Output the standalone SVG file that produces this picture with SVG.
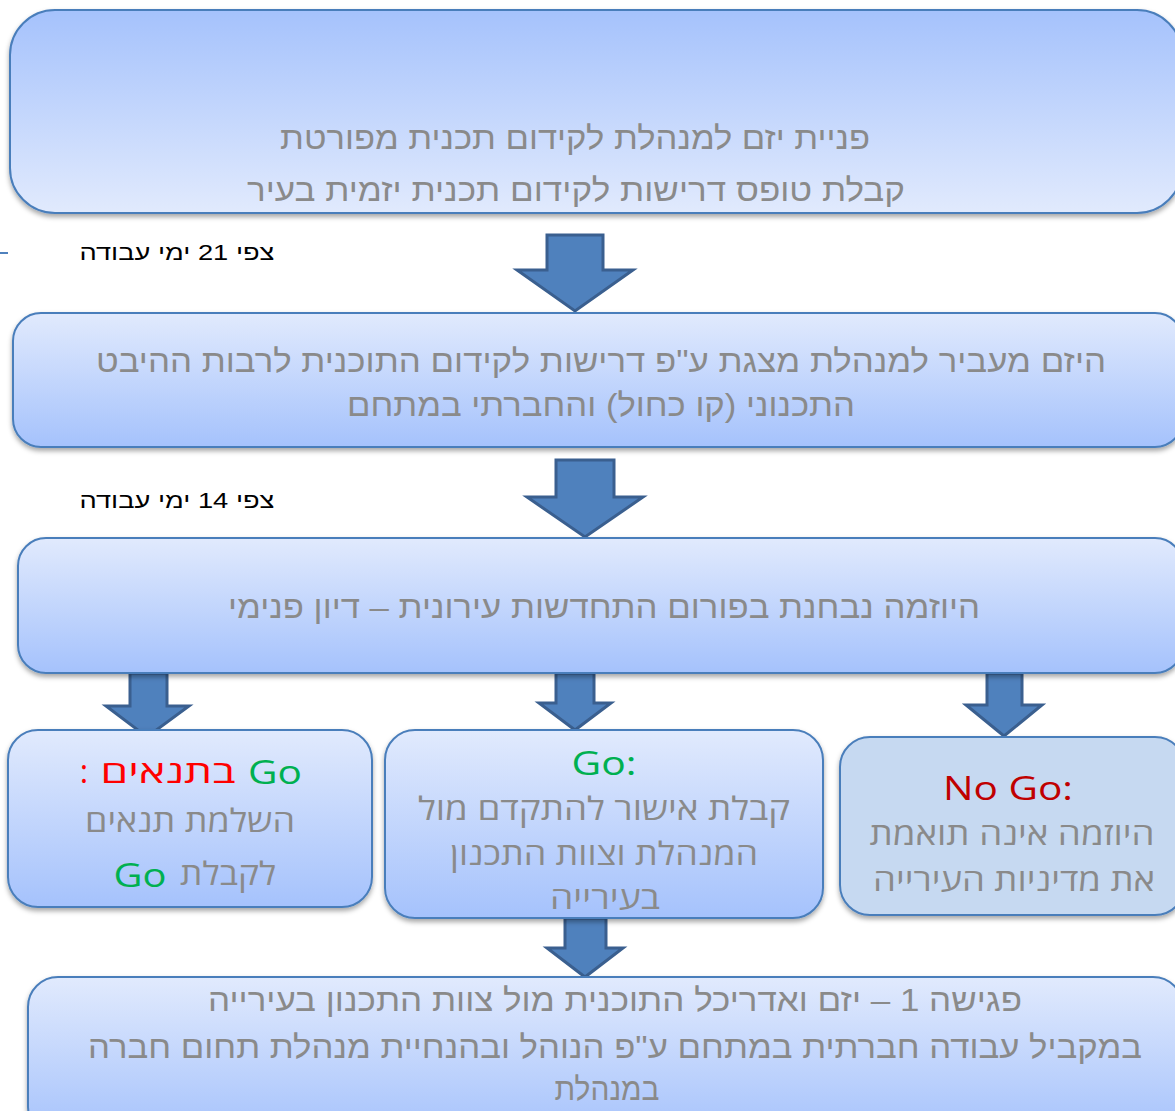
<svg xmlns="http://www.w3.org/2000/svg" width="1175" height="1111" viewBox="0 0 1175 1111">
<defs>
<linearGradient id="gDown" x1="0" y1="0" x2="0" y2="1"><stop offset="0" stop-color="#a5c2fc"/><stop offset="1" stop-color="#e1eafd"/></linearGradient>
<linearGradient id="gUp" x1="0" y1="0" x2="0" y2="1"><stop offset="0" stop-color="#e1eafd"/><stop offset="1" stop-color="#a5c2fc"/></linearGradient>
<filter id="sh" x="-5%" y="-10%" width="110%" height="125%"><feDropShadow dx="0" dy="3" stdDeviation="2.5" flood-color="#000" flood-opacity="0.35"/></filter>
</defs>
<style>
.box{stroke:#4a7ebb;stroke-width:2;filter:url(#sh)}
.arr{fill:#4f81bd;stroke:#3a5f8f;stroke-width:3;stroke-linejoin:miter}
.t{font-family:"Liberation Sans",Arial,sans-serif;fill:#8a8a8a;font-size:32px;text-anchor:middle}
.s{font-family:"Open Sans","DejaVu Sans",sans-serif;fill:#8a8a8a;font-size:32px;text-anchor:middle}
.lbl{font-family:"Liberation Sans",Arial,sans-serif;fill:#000;font-size:22px;text-anchor:middle}
.grn{fill:#00b050}
.red{fill:#ff0000}
.dred{fill:#c00000}
</style>
<g id="connectors">
<line x1="0" y1="253" x2="8" y2="253" stroke="#4f81bd" stroke-width="2"/>
<path class="arr" d="M547,235 H603 V270 H633 L575,311 L517,270 H547 Z"/>
<path class="arr" d="M556,460 H614 V497 H643 L585,537 L527,497 H556 Z"/>
<path class="arr" d="M130,673 H167 V706 H189 L147,737 L106,706 H130 Z"/>
<path class="arr" d="M556,673 H594 V703 H611 L575,730 L539,703 H556 Z"/>
<path class="arr" d="M987,673 H1022 V705 H1042 L1004,736 L966,705 H987 Z"/>
<path class="arr" d="M565,918 H606 V948 H623 L585,977 L547,948 H565 Z"/>
</g>
<g id="label21"><text class="lbl" x="177" y="260" textLength="195" lengthAdjust="spacingAndGlyphs">צפי 21 ימי עבודה</text></g>
<g id="label14"><text class="lbl" x="177" y="508" textLength="195" lengthAdjust="spacingAndGlyphs">צפי 14 ימי עבודה</text></g>
<g id="node1">
<rect class="box" x="10" y="10" width="1172" height="203" rx="45" fill="url(#gDown)"/>
<text class="t" x="575" y="149" textLength="590" lengthAdjust="spacingAndGlyphs">פניית יזם למנהלת לקידום תכנית מפורטת</text>
<text class="t" x="576" y="201" textLength="658" lengthAdjust="spacingAndGlyphs">קבלת טופס דרישות לקידום תכנית יזמית בעיר</text>
</g>
<g id="node2">
<rect class="box" x="13" y="313" width="1170" height="134" rx="28" fill="url(#gUp)"/>
<text class="t" x="601" y="372" textLength="1010" lengthAdjust="spacingAndGlyphs">היזם מעביר למנהלת מצגת ע"פ דרישות לקידום התוכנית לרבות ההיבט</text>
<text class="t" x="601" y="416" textLength="508" lengthAdjust="spacingAndGlyphs">התכנוני (קו כחול) והחברתי במתחם</text>
</g>
<g id="node3">
<rect class="box" x="18" y="538" width="1165" height="135" rx="28" fill="url(#gUp)"/>
<text class="t" x="604" y="618" textLength="752" lengthAdjust="spacingAndGlyphs">היוזמה נבחנת בפורום התחדשות עירונית – דיון פנימי</text>
</g>
<g id="node4">
<rect class="box" x="8" y="730" width="364" height="177" rx="30" fill="url(#gUp)"/>
<text class="s red" x="84" y="783" font-size="40">:</text>
<text class="s red" x="168" y="783" font-size="38" textLength="135" lengthAdjust="spacingAndGlyphs">בתנאים</text>
<text class="s grn" x="275" y="784" font-size="48" textLength="54" lengthAdjust="spacingAndGlyphs">Go</text>
<text class="s" x="190" y="832" textLength="210" lengthAdjust="spacingAndGlyphs">השלמת תנאים</text>
<text class="s" x="228" y="885" textLength="96" lengthAdjust="spacingAndGlyphs">לקבלת</text>
<text class="s grn" x="140" y="887" font-size="48" textLength="53" lengthAdjust="spacingAndGlyphs">Go</text>
</g>
<g id="node5">
<rect class="box" x="385" y="730" width="438" height="188" rx="30" fill="url(#gUp)"/>
<text class="s grn" x="604" y="775" font-size="48" textLength="65" lengthAdjust="spacingAndGlyphs">Go:</text>
<text class="s" x="604" y="820" textLength="372" lengthAdjust="spacingAndGlyphs">קבלת אישור להתקדם מול</text>
<text class="s" x="604" y="865" textLength="308" lengthAdjust="spacingAndGlyphs">המנהלת וצוות התכנון</text>
<text class="s" x="605" y="909" textLength="110" lengthAdjust="spacingAndGlyphs">בעירייה</text>
</g>
<g id="node6">
<rect class="box" x="840" y="737" width="345" height="178" rx="30" fill="#c6d9f1"/>
<text class="s dred" x="1008" y="800" font-size="48" textLength="130" lengthAdjust="spacingAndGlyphs">No Go:</text>
<text class="s" x="1012" y="845" textLength="285" lengthAdjust="spacingAndGlyphs">היוזמה אינה תואמת</text>
<text class="s" x="1014" y="891" textLength="282" lengthAdjust="spacingAndGlyphs">את מדיניות העירייה</text>
</g>
<g id="node7">
<rect class="box" x="28" y="977" width="1155" height="160" rx="30" fill="url(#gUp)"/>
<text class="t" x="615" y="1011" textLength="814" lengthAdjust="spacingAndGlyphs">פגישה 1 – יזם ואדריכל התוכנית מול צוות התכנון בעירייה</text>
<text class="t" x="615" y="1058" textLength="1054" lengthAdjust="spacingAndGlyphs">במקביל עבודה חברתית במתחם ע"פ הנוהל ובהנחיית מנהלת תחום חברה</text>
<text class="t" x="607" y="1100" textLength="105" lengthAdjust="spacingAndGlyphs">במנהלת</text>
</g>
</svg>
